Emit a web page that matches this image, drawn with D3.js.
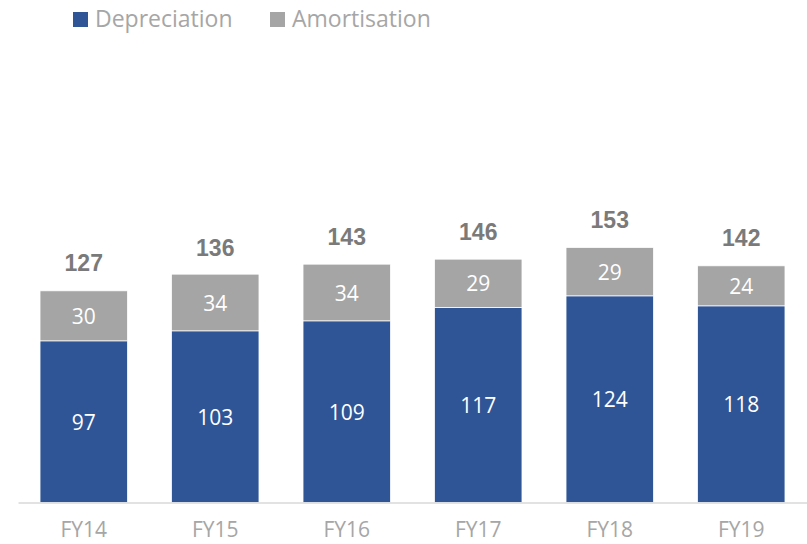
<!DOCTYPE html>
<html>
<head>
<meta charset="utf-8">
<script src="https://cdn.jsdelivr.net/npm/d3@7"></script>
<style>
  body { margin: 0; background: #fff; }
  svg { display: block; }
</style>
</head>
<body>
<div class="chart"></div>
<script>
// Chart data
var years = ["FY14", "FY15", "FY16", "FY17", "FY18", "FY19"];
var depreciation = [97, 103, 109, 117, 124, 118];
var amortisation = [30, 34, 34, 29, 29, 24];
var totals = [127, 136, 143, 146, 153, 142];
var seriesNames = ["Depreciation", "Amortisation"];

var W = 807, H = 544;
var BLUE = "#2F5597", GREY = "#A5A5A5";

var svg = d3.select("div.chart")
    .append("svg")
        .attr("width", W)
        .attr("height", H);

var x = d3.scaleBand()
    .domain(years)
    .range([18, 807])
    .paddingInner(0.335)
    .paddingOuter(0.1675);

var y = d3.scaleLinear()
    .domain([0, 180])
    .range([502.5, 202.5]);

// build stacked rows
var rows = years.map(function(yr, i) {
    return { year: yr, Depreciation: depreciation[i], Amortisation: amortisation[i], total: totals[i] };
});
var stack = d3.stack().keys(seriesNames)(rows);
var colors = d3.scaleOrdinal().domain(seriesNames).range([BLUE, GREY]);

// bars
var layers = svg.selectAll("g.layer")
    .data(stack)
    .enter()
    .append("g")
        .attr("class", "layer")
        .attr("fill", function(d) { return colors(d.key); });

layers.selectAll("rect")
    .data(function(d) { return d; })
    .enter()
    .append("rect")
        .attr("x", function(d) { return x(d.data.year); })
        .attr("y", function(d) { return y(d[1]); })
        .attr("width", x.bandwidth())
        .attr("height", function(d) { return y(d[0]) - y(d[1]); })
        .attr("stroke", "#ffffff")
        .attr("stroke-width", 0.75);

// value labels inside segments
layers.selectAll("text")
    .data(function(d) { return d; })
    .enter()
    .append("text")
        .attr("x", function(d) { return x(d.data.year) + x.bandwidth() / 2; })
        .attr("y", function(d) { return (y(d[0]) + y(d[1])) / 2 + 8; })
        .attr("text-anchor", "middle")
        .style("font-family", "'Open Sans', sans-serif")
        .style("font-size", "21px")
        .style("fill", "#ffffff")
        .text(function(d) { return d[1] - d[0]; });

// totals above bars
svg.selectAll("text.total")
    .data(rows)
    .enter()
    .append("text")
        .attr("class", "total")
        .attr("x", function(d) { return x(d.year) + x.bandwidth() / 2; })
        .attr("y", function(d) { return y(d.total) - 19.5; })
        .attr("text-anchor", "middle")
        .style("font-family", "'Liberation Sans', Arial, sans-serif")
        .style("font-weight", "bold")
        .style("font-size", "23px")
        .style("fill", "#7A7A7A")
        .text(function(d) { return d.total; });

// x axis
var xAxis = svg.append("g")
    .attr("class", "x-axis")
    .attr("transform", "translate(0," + y(0) + ")")
    .call(d3.axisBottom(x).tickSize(0).tickPadding(20));

xAxis.select(".domain")
    .attr("stroke", "#D9D9D9")
    .attr("stroke-width", 1.5);
xAxis.selectAll("text")
    .style("font-family", "'Open Sans', sans-serif")
    .style("font-size", "21px")
    .style("fill", "#A6A6A6");

// legend
var legendX = [73, 270];
var legend = svg.append("g").attr("class", "legend");
seriesNames.forEach(function(name, i) {
    legend.append("rect")
        .attr("x", legendX[i])
        .attr("y", 12)
        .attr("width", 15)
        .attr("height", 15)
        .attr("fill", colors(name));
    legend.append("text")
        .attr("x", legendX[i] + 22)
        .attr("y", 27)
        .style("font-family", "'Open Sans', sans-serif")
        .style("font-size", "23px")
        .style("fill", "#A6A6A6")
        .text(name);
});
</script>
</body>
</html>
